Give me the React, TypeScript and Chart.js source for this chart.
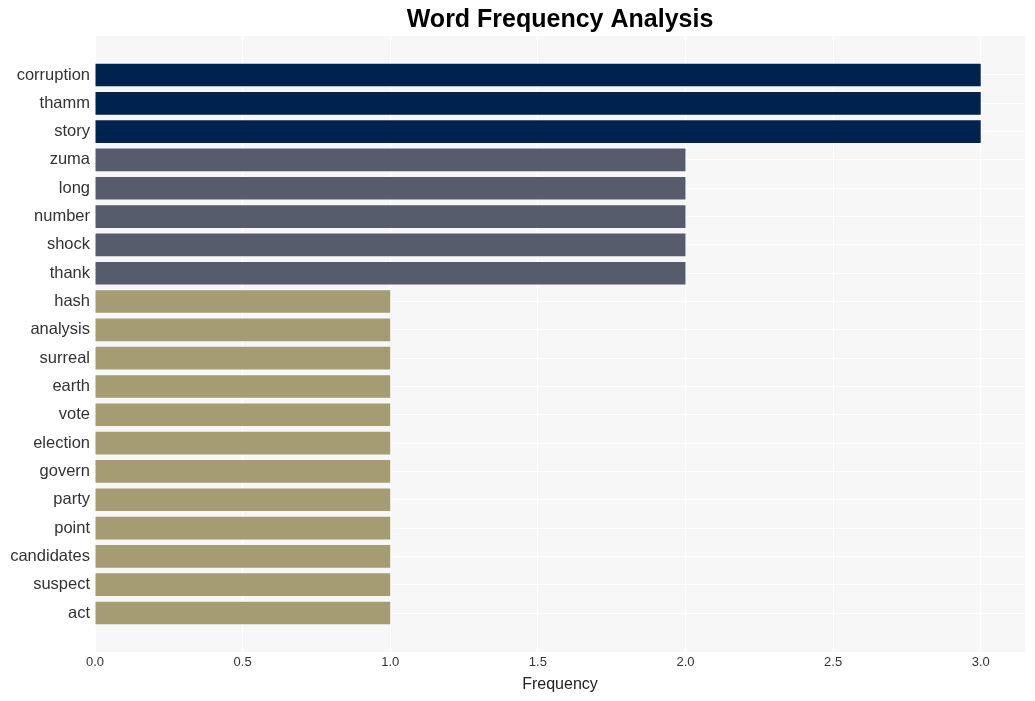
import React, { useEffect, useRef } from "react";
import { Chart, registerables } from "chart.js";

Chart.register(...registerables);

const words = [
  "corruption", "thamm", "story", "zuma", "long", "number", "shock", "thank",
  "hash", "analysis", "surreal", "earth", "vote", "election", "govern", "party",
  "point", "candidates", "suspect", "act",
];
const frequencies = [3, 3, 3, 2, 2, 2, 2, 2, 1, 1, 1, 1, 1, 1, 1, 1, 1, 1, 1, 1];
const colorByFrequency: Record<number, string> = {
  3: "#00224E",
  2: "#575C6D",
  1: "#A59C74",
};
const xTicks = [0, 0.5, 1, 1.5, 2, 2.5, 3];
const titleText = "Word Frequency Analysis";

const FONT = "'Liberation Sans', Arial, sans-serif";

const bgPlugin = {
  id: "plotBg",
  beforeDraw(chart: any) {
    const { ctx, chartArea } = chart;
    ctx.save();
    ctx.fillStyle = "#F7F7F7";
    ctx.fillRect(chartArea.left, chartArea.top, chartArea.right - chartArea.left, chartArea.bottom - chartArea.top);
    ctx.restore();
  },
  afterDraw(chart: any) {
    const { ctx, chartArea } = chart;
    ctx.save();
    ctx.fillStyle = "#000";
    ctx.font = `bold 25px ${FONT}`;
    ctx.textAlign = "center";
    ctx.textBaseline = "middle";
    ctx.fillText(titleText, (chartArea.left + chartArea.right) / 2, 20.5);
    ctx.restore();
  },
};

export default function App() {
  const ref = useRef<HTMLCanvasElement>(null);
  useEffect(() => {
    document.body.style.margin = "0";
    const data = words.map((w, i) => ({ x: frequencies[i], y: i }));
    const chart = new Chart(ref.current!, {
      type: "bar",
      data: {
        datasets: [
          {
            data: data as any,
            backgroundColor: frequencies.map((f) => colorByFrequency[f]),
            barPercentage: 0.8,
            categoryPercentage: 1,
            borderWidth: 0,
          },
        ],
      },
      plugins: [bgPlugin],
      options: {
        indexAxis: "y",
        animation: false,
        responsive: false,
        maintainAspectRatio: false,
        layout: { padding: { left: 0, right: 10, top: 36, bottom: 0 } },
        plugins: {
          legend: { display: false },
          tooltip: { enabled: false },
          title: { display: false },
        },
        scales: {
          x: {
            type: "linear",
            min: 0,
            max: 3.15,
            afterBuildTicks: (axis: any) => {
              axis.ticks = xTicks.map((v) => ({ value: v }));
            },
            afterFit: (axis: any) => {
              axis.height = 49;
            },
            ticks: {
              color: "#333",
              font: { family: FONT, size: 13 },
              padding: 3,
              callback: (v: any) => Number(v).toFixed(1),
            },
            grid: { color: "#FFFFFF", lineWidth: 1, drawTicks: false },
            border: { display: false },
            title: {
              display: true,
              text: "Frequency",
              color: "#222",
              font: { family: FONT, size: 16 },
              padding: { top: 4, bottom: 7 },
            },
          },
          y: {
            type: "linear",
            reverse: true,
            offset: false,
            min: -1.377,
            max: 20.377,
            afterBuildTicks: (axis: any) => {
              axis.ticks = words.map((_, i) => ({ value: i }));
            },
            afterFit: (axis: any) => {
              axis.width = 95;
            },
            ticks: {
              color: "#333",
              font: { family: FONT, size: 16.5 },
              padding: 5,
              autoSkip: false,
              callback: (v: any) => words[v] ?? "",
            },
            grid: { color: "#FFFFFF", lineWidth: 1, drawTicks: false, offset: false },
            border: { display: false },
          },
        },
      },
    });
    return () => chart.destroy();
  }, []);
  return (
    <div style={{ width: 1035, height: 701 }}>
      <canvas ref={ref} width={1035} height={701} style={{ display: "block" }} />
    </div>
  );
}
